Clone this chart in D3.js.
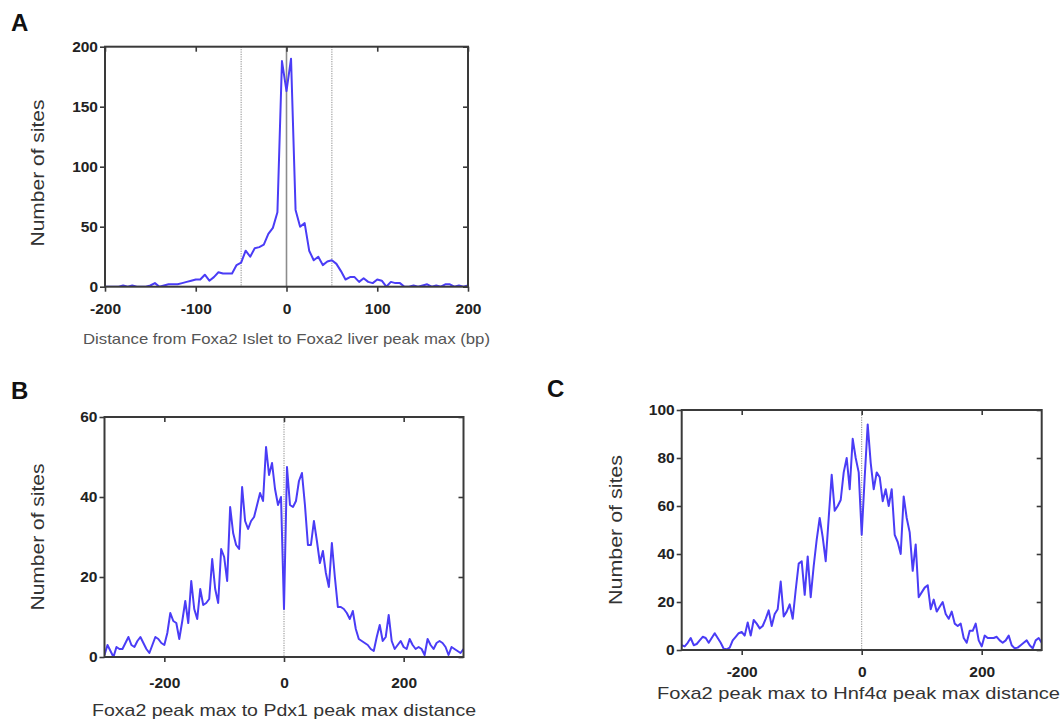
<!DOCTYPE html>
<html>
<head>
<meta charset="utf-8">
<script src="https://cdn.jsdelivr.net/npm/d3@7"></script>
<style>
  html, body { margin: 0; padding: 0; background: #fff; }
  svg { display: block; }
</style>
</head>
<body>
<svg id="chart" width="1063" height="721"></svg>
<script>
// ---------- DATA ----------
// Panel A: distance from Foxa2 islet to Foxa2 liver peak max (bp)
const aDistance = [-200,-195,-190,-185,-180,-175,-170,-165,-160,-155,-150,-145,-140,-135,-130,-125,-120,-115,-110,-105,
  -100,-95,-90,-85,-80,-75,-70,-65,-60,-55,-50,-45,-40,-35,-30,-25,-20,-15,-10,-5,
  0,5,10,15,20,25,30,35,40,45,50,55,60,65,70,75,80,85,90,95,
  100,105,110,115,120,125,130,135,140,145,150,155,160,165,170,175,180,185,190,195,200];
const aSites = [0,0,0,0,1,0,1,0,0,0,1,3,0,1,2,2,2,3,4,5,
  6,6,10,5,8,12,11,11,11,18,20,30,25,32,33,35,44,49,62,188,
  163,190,64,50,53,30,22,25,18,21,22,19,13,6,8,8,4,7,4,3,
  6,5,0,4,3,3,0,0,1,0,1,2,0,1,0,2,2,0,1,0,1];

// Panel B: Foxa2 peak max to Pdx1 peak max distance
const bDistance = [-300,-295,-290,-285,-280,-275,-270,-265,-260,-255,-250,-245,-240,-235,-230,-225,-220,-215,-210,-205,
  -200,-195,-190,-185,-180,-175,-170,-165,-160,-155,-150,-145,-140,-135,-130,-125,-120,-115,-110,-105,
  -100,-95,-90,-85,-80,-75,-70,-65,-60,-55,-50,-45,-40,-35,-30,-25,-20,-15,-10,-5,
  0,5,10,15,20,25,30,35,40,45,50,55,60,65,70,75,80,85,90,95,
  100,105,110,115,120,125,130,135,140,145,150,155,160,165,170,175,180,185,190,195,
  200,205,210,215,220,225,230,235,240,245,250,255,260,265,270,275,280,285,290,295,300];
const bSites = [0.5,3,1.5,0,2.5,2,2,3.5,5,3,2.5,4,5,3.5,2,1,3,5,4.5,3.5,
  3,6,11,9,8.5,4.5,9,14,8.5,19,12,9.5,17,13,13.5,14.5,24.5,17,13.5,27,
  25,19,37.5,31,28,27,42.5,34,32,34,35,38,41,39,52.5,45.5,48.5,42,38,40,
  12,47.5,38,37.5,39,44,46,38,28,28,34,29,23.5,26.5,21,17.5,28.5,20,12.5,12.5,
  12,11,9.5,11.5,7,4.5,4,3.5,3,2,1.5,5,8,4,5,10.5,4,2,3,4,
  2.5,2,4.5,3,2,2.5,2,0.5,4.5,3,2,3.5,4,3.5,2.5,0.5,2.5,2,1.5,1,2];

// Panel C: Foxa2 peak max to Hnf4α peak max distance
const cDistance = [-300,-295,-290,-285,-280,-275,-270,-265,-260,-255,-250,-245,-240,-235,-230,-225,-220,-215,-210,-205,
  -200,-195,-190,-185,-180,-175,-170,-165,-160,-155,-150,-145,-140,-135,-130,-125,-120,-115,-110,-105,
  -100,-95,-90,-85,-80,-75,-70,-65,-60,-55,-50,-45,-40,-35,-30,-25,-20,-15,-10,-5,
  0,5,10,15,20,25,30,35,40,45,50,55,60,65,70,75,80,85,90,95,
  100,105,110,115,120,125,130,135,140,145,150,155,160,165,170,175,180,185,190,195,
  200,205,210,215,220,225,230,235,240,245,250,255,260,265,270,275,280,285,290,295,300];
const cSites = [2,1.5,3,5,2,2.5,4,5.5,5,3,5,7,5,3,0.5,0.3,1,4,5.5,7,
  7.5,6,11.5,6,12.5,11,9,10,13,16.5,10,15,17,28.5,14,16,19,13,25,36,
  37,23,39,22,35,46,55,47,37,55,73,58,60,62.5,74,80,67,88,80,74,
  48,72,94,78,67,74,72,62,67,60,67,48,45,40,64,55,49,33,44,22,
  24,26,27,17,21,16,18,20,15,13,16,11,10,11,5,3,8,8,11,4,
  1.5,6,5,5,5,5.5,4,3,4,6,2,0.7,1,2,3,4,2,0.7,4,5,3];

// Axis ticks
const aXTicks = [-200,-100,0,100,200];
const aYTicks = [0,50,100,150,200];
const bXTicks = [-200,0,200];
const bYTicks = [0,20,40,60];
const cXTicks = [-200,0,200];
const cYTicks = [0,20,40,60,80,100];

// Reference (vertical) lines
const aRefSolid = [0];
const aRefDotted = [-50,50];
const bRefDotted = [0];
const cRefDotted = [0];

// Texts
const yTitle = "Number of sites";
const aXTitle = "Distance from Foxa2 Islet to Foxa2 liver peak max (bp)";
const bXTitle = "Foxa2 peak max to Pdx1 peak max distance";
const cXTitle = "Foxa2 peak max to Hnf4\u03b1 peak max distance";

// ---------- DRAW ----------
const svg = d3.select("#chart");
const FONT = "'Liberation Sans', Arial, Helvetica, sans-serif";
const AXIS_COLOR = "#3a3a3a";
const LINE_COLOR = "#4a3cf6";
const fmt = d => String(d);   // plain hyphen-minus like the reference

function panel(cfg) {
  const x = d3.scaleLinear().domain(cfg.xDomain).range([cfg.left, cfg.right]);
  const y = d3.scaleLinear().domain(cfg.yDomain).range([cfg.bottom, cfg.top]);
  const g = svg.append("g");

  const clipId = "clip" + cfg.id;
  svg.append("clipPath").attr("id", clipId)
    .append("rect").attr("x", cfg.left).attr("y", cfg.top - 4)
    .attr("width", cfg.right - cfg.left).attr("height", cfg.bottom - cfg.top + 4);

  (cfg.refSolid || []).forEach(v => {
    g.append("line").attr("x1", x(v)).attr("x2", x(v)).attr("y1", cfg.top).attr("y2", cfg.bottom)
      .attr("stroke", "#8c8c8c").attr("stroke-width", 1.6);
  });
  (cfg.refDotted || []).forEach(v => {
    g.append("line").attr("x1", x(v)).attr("x2", x(v)).attr("y1", cfg.top).attr("y2", cfg.bottom)
      .attr("stroke", "#8a8a8a").attr("stroke-width", 1).attr("stroke-dasharray", "1.2,1.2");
  });

  const pts = cfg.xs.map((d, i) => [d, cfg.ys[i]]);
  g.append("path").datum(pts)
    .attr("clip-path", `url(#${clipId})`)
    .attr("fill", "none").attr("stroke", LINE_COLOR).attr("stroke-width", 2)
    .attr("stroke-linejoin", "round")
    .attr("d", d3.line().x(d => x(d[0])).y(d => y(d[1])));

  const styleAxis = (sel, labels) => {
    sel.select(".domain").remove();
    sel.selectAll(".tick line").attr("stroke", AXIS_COLOR).attr("stroke-width", 1.6);
    sel.selectAll(".tick text")
      .attr("font-family", FONT).attr("font-weight", "bold").attr("font-size", 15.5)
      .attr("fill", "#222");
    if (!labels) sel.selectAll(".tick text").remove();
  };
  g.append("g").attr("transform", `translate(0,${cfg.bottom})`)
    .call(d3.axisBottom(x).tickValues(cfg.xTicks).tickSize(5).tickPadding(cfg.xPad).tickFormat(fmt))
    .call(s => styleAxis(s, true));
  g.append("g").attr("transform", `translate(0,${cfg.top})`)
    .call(d3.axisTop(x).tickValues(cfg.xTicks).tickSize(-5))
    .call(s => styleAxis(s, false));
  g.append("g").attr("transform", `translate(${cfg.left},0)`)
    .call(d3.axisLeft(y).tickValues(cfg.yTicks).tickSize(5).tickPadding(2).tickFormat(fmt))
    .call(s => styleAxis(s, true));
  g.append("g").attr("transform", `translate(${cfg.right},0)`)
    .call(d3.axisRight(y).tickValues(cfg.yTicks).tickSize(-5))
    .call(s => styleAxis(s, false));

  g.append("rect").attr("x", cfg.left).attr("y", cfg.top)
    .attr("width", cfg.right - cfg.left).attr("height", cfg.bottom - cfg.top)
    .attr("fill", "none").attr("stroke", AXIS_COLOR).attr("stroke-width", 2);

  g.append("text").attr("x", cfg.letterX).attr("y", cfg.letterY)
    .attr("font-family", FONT).attr("font-weight", "bold").attr("font-size", 24)
    .attr("fill", "#111").text(cfg.letter);
  g.append("text")
    .attr("transform", `translate(${cfg.yTitleX},${cfg.yTitleY}) rotate(-90)`)
    .attr("text-anchor", "middle").attr("font-family", FONT).attr("font-size", 18)
    .attr("textLength", cfg.yTitleLen).attr("lengthAdjust", "spacingAndGlyphs")
    .attr("fill", "#333").text(yTitle);
  g.append("text").attr("x", cfg.xTitleX).attr("y", cfg.xTitleY)
    .attr("text-anchor", "middle").attr("font-family", FONT).attr("font-size", cfg.xTitleSize)
    .attr("textLength", cfg.xTitleLen).attr("lengthAdjust", "spacingAndGlyphs")
    .attr("fill", cfg.xTitleColor).text(cfg.xTitle);
}

panel({
  id: "A", xs: aDistance, ys: aSites, xDomain: [-200, 200], yDomain: [0, 200],
  left: 105, right: 468, top: 46.7, bottom: 286.7, xPad: 11,
  xTicks: aXTicks, yTicks: aYTicks, refSolid: aRefSolid, refDotted: aRefDotted,
  letter: "A", letterX: 11, letterY: 31,
  yTitleX: 44, yTitleY: 173, yTitleLen: 147,
  xTitle: aXTitle, xTitleX: 286.5, xTitleY: 344, xTitleSize: 15, xTitleLen: 407, xTitleColor: "#555"
});
panel({
  id: "B", xs: bDistance, ys: bSites, xDomain: [-300, 300], yDomain: [0, 60],
  left: 104.5, right: 463.5, top: 417, bottom: 657, xPad: 15,
  xTicks: bXTicks, yTicks: bYTicks, refDotted: bRefDotted,
  letter: "B", letterX: 11, letterY: 399,
  yTitleX: 44, yTitleY: 537, yTitleLen: 147,
  xTitle: bXTitle, xTitleX: 284, xTitleY: 716, xTitleSize: 17, xTitleLen: 384, xTitleColor: "#333"
});
panel({
  id: "C", xs: cDistance, ys: cSites, xDomain: [-300, 300], yDomain: [0, 100],
  left: 681.7, right: 1041.7, top: 410, bottom: 650, xPad: 11,
  xTicks: cXTicks, yTicks: cYTicks, refDotted: cRefDotted,
  letter: "C", letterX: 547, letterY: 397,
  yTitleX: 622, yTitleY: 530, yTitleLen: 150,
  xTitle: cXTitle, xTitleX: 858.5, xTitleY: 699, xTitleSize: 17, xTitleLen: 403, xTitleColor: "#333"
});
</script>
</body>
</html>
